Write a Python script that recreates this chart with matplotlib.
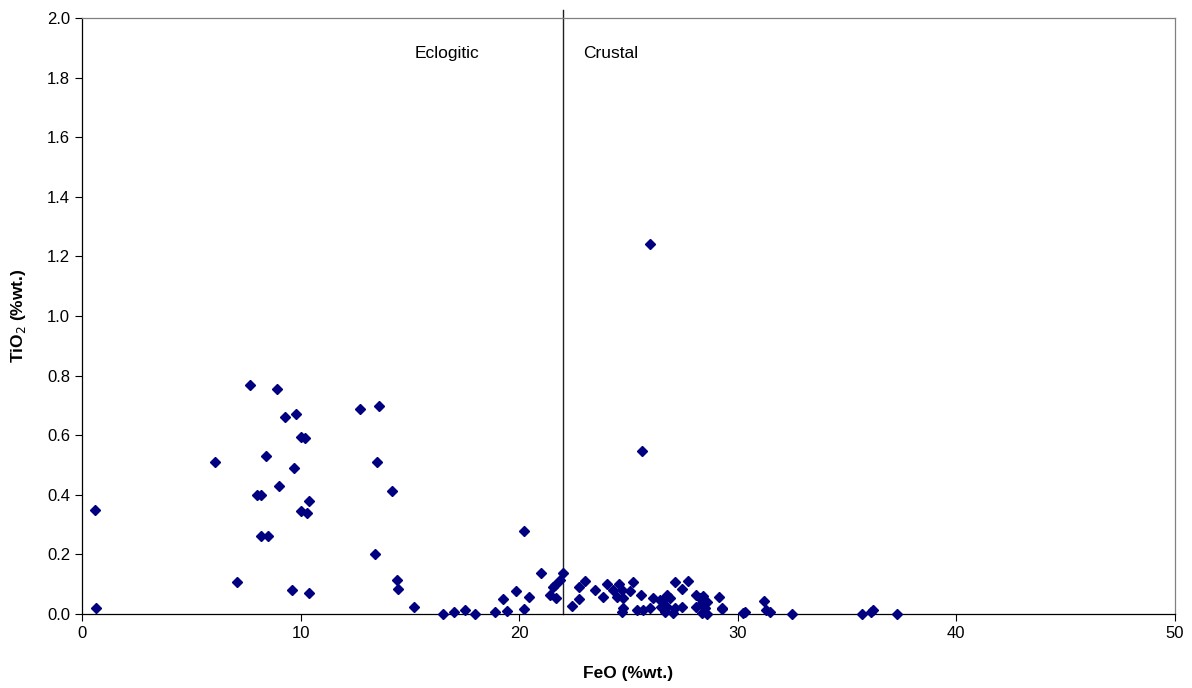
import matplotlib
matplotlib.use("Agg")
import matplotlib.pyplot as plt

plt.rcParams['font.family'] = ['Liberation Sans', 'DejaVu Sans']

feo = [0.6, 0.64, 6.1, 7.1, 7.7, 8.0, 8.2, 8.4, 8.2, 8.5, 8.9, 9.0, 9.3, 9.6, 9.7, 9.8,
       10.0, 10.2, 10.0, 10.3, 10.4, 10.4,
       12.7, 13.6, 13.5, 14.2, 13.4, 14.4, 14.47, 15.17, 16.5,
       17.0, 17.5, 18.0, 18.9, 19.46, 19.27, 19.87, 20.2, 20.45, 20.2, 21.0,
       21.4, 21.67, 21.53, 21.64, 21.87, 22.02, 22.41, 22.72, 22.75, 23.0, 23.48,
       24.0, 23.85, 24.3, 24.58, 24.7, 24.46, 24.77, 24.73, 24.7, 25.2, 25.07,
       25.55, 25.4, 25.68, 26.13, 26.0, 26.44, 26.5, 26.67,
       27.13, 27.73, 27.43, 26.75, 26.6, 26.9, 26.75, 27.13, 27.43, 27.05,
       28.1, 28.27, 28.35, 28.1, 28.5, 28.35, 28.6, 28.4, 28.57, 29.15, 29.3, 29.26,
       30.25, 30.33, 31.2, 31.3, 31.47, 32.5, 35.7, 36.1, 36.2, 37.3,
       26.0, 25.6]
tio2 = [0.35, 0.02, 0.51, 0.107, 0.77, 0.40, 0.40, 0.53, 0.26, 0.26, 0.755, 0.43, 0.66, 0.08, 0.49, 0.67,
        0.594, 0.59, 0.346, 0.34, 0.38, 0.07,
        0.689, 0.699, 0.51, 0.414, 0.20, 0.115, 0.085, 0.025, 0.0,
        0.005, 0.012, 0.0, 0.007, 0.01, 0.05, 0.076, 0.017, 0.056, 0.28, 0.137,
        0.065, 0.055, 0.092, 0.098, 0.114, 0.137, 0.027, 0.05, 0.09, 0.11, 0.08,
        0.1, 0.056, 0.08, 0.1, 0.08, 0.058, 0.052, 0.019, 0.008, 0.106, 0.077,
        0.064, 0.013, 0.013, 0.055, 0.02, 0.047, 0.025, 0.008,
        0.106, 0.11, 0.083, 0.064, 0.047, 0.052, 0.025, 0.019, 0.025, 0.002,
        0.064, 0.052, 0.036, 0.025, 0.019, 0.002, 0.0, 0.06, 0.04, 0.058, 0.016, 0.019,
        0.002, 0.008, 0.044, 0.013, 0.008, 0.0, 0.0, 0.008, 0.013, 0.0,
        1.24, 0.547]

xticks = [0, 10, 20, 30, 40, 50]
yticks = [0.0, 0.2, 0.4, 0.6, 0.8, 1.0, 1.2, 1.4, 1.6, 1.8, 2.0]
boundary = 22

fig = plt.figure(figsize=(11.92, 6.88), dpi=100)
ax = fig.add_axes([0.0688, 0.1076, 0.9169, 0.8662])
ax.plot(feo, tio2, linestyle='none', marker='D', markersize=5.2,
        color='#000080', clip_on=False, zorder=3)
ax.plot([boundary, boundary], [0, 2.027], color='#202020', linewidth=1.0,
        zorder=2, clip_on=False)
ax.text(16.7, 1.88, 'Eclogitic', ha='center', va='center', fontsize=12.5)
ax.text(24.2, 1.88, 'Crustal', ha='center', va='center', fontsize=12.5)

ax.set_xlim(0, 50)
ax.set_ylim(0, 2.0)
ax.set_xticks(xticks)
ax.set_yticks(yticks)
ax.set_yticklabels([f'{v:.1f}' for v in yticks])
ax.tick_params(direction='out', length=5, width=0.8, labelsize=12, colors='black')
for s in ax.spines.values():
    s.set_linewidth(0.9)
ax.spines['top'].set_color('#808080')
ax.spines['right'].set_color('#808080')
ax.set_xlabel('FeO (%wt.)', fontsize=12.5, fontweight='bold', labelpad=18)
ax.set_ylabel('TiO$_2$ (%wt.)', fontsize=12.5, fontweight='bold', labelpad=14)

fig.savefig('out.png', dpi=100)
